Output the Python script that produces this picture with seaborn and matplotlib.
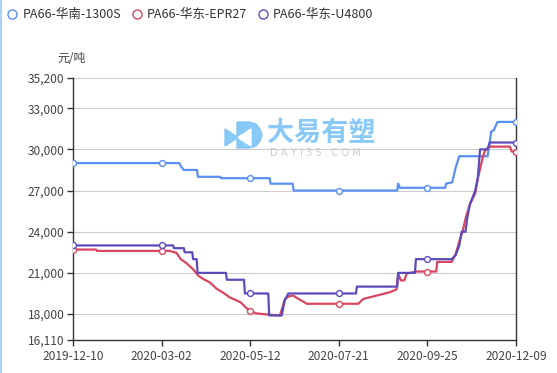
import matplotlib
matplotlib.use("Agg")
import matplotlib.pyplot as plt
from matplotlib.lines import Line2D
from matplotlib.patches import Polygon, Wedge, Rectangle
from matplotlib.ticker import FuncFormatter
import seaborn as sns
import pandas as pd

# category axis: 251 trading days, labels every 50
date_labels = ["2019-12-10", "2020-03-02", "2020-05-12", "2020-07-21", "2020-09-25", "2020-12-09"]
label_idx = [0, 50, 100, 150, 200, 250]
y_ticks = [16110, 18000, 21000, 24000, 27000, 30000, 33000, 35200]

names = ["PA66-华南-1300S", "PA66-华东-EPR27", "PA66-华东-U4800"]
colors = ["#5a90f2", "#d8475f", "#5b4cbd"]

# PA66-华南-1300S (change points)
blue_x = [0, 60, 61, 62.5, 70, 70.5, 83, 83.5, 111, 111.5, 124, 124.5, 183, 183.5, 184.5,
          210, 210.5, 214, 216, 218, 234, 236, 237.5, 239.5, 250]
blue_y = [29000, 29000, 28750, 28500, 28500, 28000, 28000, 27900, 27900, 27500, 27500, 27000, 27000, 27500, 27200,
          27200, 27500, 27600, 28700, 29500, 29500, 31300, 31400, 32000, 32000]

# PA66-华东-EPR27
red_x = [0, 13, 13.5, 54.7, 58.5, 60.8, 64.1, 67.9, 70.7, 73.5, 77.3, 81, 84.8, 88.6, 91.4, 94.6,
         97, 100, 103.6, 111, 116.8, 119.6, 122, 124.3, 126, 128, 130, 131.9, 161, 163.8, 171.4,
         179, 182.6, 183.5, 185, 187, 188.3, 194, 205, 205.5, 213.7, 216, 218, 219.8, 221.8, 224,
         227, 228.5, 231.2, 232.5, 235, 246.6, 247.5, 250]
red_y = [22700, 22700, 22600, 22600, 22450, 22000, 21700, 21250, 20800, 20550, 20300, 19850, 19550, 19200, 19050, 18850,
         18550, 18200, 18050, 17950, 17900, 19100, 19300, 19350, 19200, 19050, 18900, 18750, 18750, 19100, 19350,
         19600, 19800, 20950, 20450, 20450, 20950, 21100, 21100, 21800, 21800, 22400, 23300, 24000, 25100, 26000,
         26800, 27900, 29400, 29900, 30200, 30200, 29850, 29800]

# PA66-华东-U4800
purple_x = [0, 56.5, 57, 62.6, 63, 67.3, 67.8, 69.8, 70.3, 86.3, 86.8, 96.5, 97, 110.2, 110.7, 117.8,
            119.5, 121.5, 159.7, 160.2, 183, 183.5, 193, 193.5, 213.7, 216, 218, 219.3, 221.5, 222.5,
            224, 227, 228.5, 229.7, 233.8, 235.3, 250]
purple_y = [23000, 23000, 22800, 22800, 22500, 22500, 22000, 22000, 21000, 21000, 20500, 20500, 19500, 19500, 17900, 17900,
            19000, 19500, 19500, 20000, 20000, 21000, 21000, 22000, 22000, 22300, 23000, 24000, 24000, 25000,
            26000, 27000, 28000, 30000, 30000, 30500, 30500]

# hollow symbols shown at labelled dates
blue_marks = [29000, 29000, 27900, 27000, 27200, 32000]
red_marks = [22700, 22600, 18200, 18700, 21100, 29800]
purple_marks = [23000, 23000, 19500, 19500, 22000, 30500]

sns.set_theme(style="white")
plt.rcParams['font.family'] = ['Noto Sans CJK SC', 'DejaVu Sans']

W, H = 557, 373
fig = plt.figure(figsize=(W / 100, H / 100), dpi=100)
ax = fig.add_axes([73 / W, 1 - 340 / H, (516 - 73) / W, (340 - 78) / H])

series = [(blue_x, blue_y, blue_marks), (red_x, red_y, red_marks), (purple_x, purple_y, purple_marks)]
for (xs, ys, marks), name, c in zip(series, names, colors):
    df = pd.DataFrame({"idx": xs, "price": ys})
    sns.lineplot(data=df, x="idx", y="price", ax=ax, color=c, linewidth=1.6,
                 estimator=None, sort=False, zorder=3)
    dm = pd.DataFrame({"idx": label_idx, "price": marks})
    sns.scatterplot(data=dm, x="idx", y="price", ax=ax, s=18, color="white",
                    edgecolor=c, linewidth=1.0, zorder=4)

ax.set_xlim(0, 250)
ax.set_ylim(16110, 35200)
ax.set_yticks(y_ticks)
ax.yaxis.set_major_formatter(FuncFormatter(lambda v, p: f"{int(v):,}"))
ax.set_xticks(label_idx)
ax.set_xticklabels(date_labels)
ax.set_xlabel("")
ax.set_ylabel("")
for v in y_ticks[1:]:
    ax.axhline(v, color="#cccccc", linewidth=0.8, zorder=1)

ax.spines["top"].set_visible(False)
for s in ["left", "bottom", "right"]:
    ax.spines[s].set_color("#333333")
    ax.spines[s].set_linewidth(1.0)
ax.tick_params(axis="both", which="major", length=4, width=1, color="#333333",
               labelsize=8.6, labelcolor="#444444", pad=2, direction="out")
ax.tick_params(axis="x", bottom=True, pad=3)
ax.tick_params(axis="y", left=True)

# unit label
fig.text(57 / W, 1 - 58 / H, "元/吨", fontsize=8.6, color="#444444", va="center")


# watermark (logo + text), figure pixel coords
def fp(x, y):
    return (x / W, 1 - y / H)


logo_c = "#7cc4f8"
fig.add_artist(Polygon([fp(225, 129), fp(225, 146), fp(238, 137.5)], closed=True,
                       transform=fig.transFigure, color=logo_c, alpha=0.9, zorder=2))
fig.add_artist(Polygon([fp(237, 122), fp(249, 122), fp(256, 124), fp(260, 129), fp(262, 135),
                        fp(260, 141), fp(256, 146), fp(249, 148), fp(237, 148)], closed=True,
                       transform=fig.transFigure, color=logo_c, alpha=0.9, zorder=2))
fig.add_artist(Polygon([fp(238, 137.5), fp(251, 129), fp(251, 146)], closed=True,
                       transform=fig.transFigure, color="white", zorder=2))
fig.text(267 / W, 1 - 133 / H, "大易有塑", fontsize=19.5, fontweight="bold",
         color=logo_c, alpha=0.9, va="center")
fig.text(270 / W, 1 - 153 / H, "D A Y I 3 5 . C O M", fontsize=7.2, color="#cccccc",
         va="center", family=["DejaVu Sans"])

# legend
handles = [Line2D([], [], linestyle="none", marker="o", markersize=6.5, markerfacecolor="white",
                  markeredgecolor=c, markeredgewidth=1.0) for c in colors]
fig.legend(handles, names, loc="upper left", bbox_to_anchor=(-0.009, 1.008), ncol=3, frameon=False,
           fontsize=9, handlelength=1.0, handletextpad=0.3, columnspacing=0.75,
           labelcolor="#333333")

# page edge strip on the left
fig.add_artist(Line2D([1 / W, 1 / W], [0, 1], color="#a8d3f5", linewidth=1.5))

fig.savefig("out.png", dpi=100)
